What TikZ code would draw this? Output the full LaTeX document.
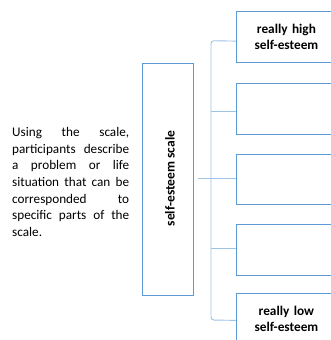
\documentclass[tikz,border=0pt]{standalone}
\usepackage{fontspec}
\setmainfont{Carlito}
\hyphenpenalty=10000
\exhyphenpenalty=10000
\definecolor{boxblue}{HTML}{5B9BD5}
\definecolor{linkblue}{HTML}{9DC3E6}
\begin{document}
\begin{tikzpicture}[x=1pt,y=-1pt,
  sbox/.style={draw=boxblue,line width=0.8pt,minimum width=104pt,minimum height=51pt,inner sep=0pt,anchor=north west,
    font=\fontsize{13.3}{16.7}\selectfont\bfseries,text width=104pt,align=center},
  conn/.style={draw=linkblue,line width=0.9pt}]
\clip (0,0) rectangle (331,340);
\fill[white] (0,0) rectangle (331,340);
% description text
\node[anchor=north west,inner sep=0pt,text width=117pt,align=justify,
  font=\fontsize{13.2}{16.7}\selectfont] (desc) at (12,127)
  {Using the scale,\linebreak participants describe\linebreak a problem or life\linebreak situation that can be\linebreak corresponded to\linebreak specific parts of the\linebreak scale.};
% scale box
\node[draw=boxblue,line width=0.8pt,minimum width=51pt,minimum height=232pt,inner sep=0pt,anchor=north west] (scale) at (142,63) {};
\node[rotate=90,font=\fontsize{13.5}{15}\selectfont\bfseries,inner sep=0pt] (scaletxt) at (170,178.5) {self-esteem scale};
% right boxes
\node[sbox] (b1) at (236,11) {\hspace*{-4pt}really high\\\hspace*{-4pt}self-esteem\par\vspace{4pt}};
\node[sbox] (b2) at (236,83) {};
\node[sbox,minimum height=50pt] (b3) at (236,154) {};
\node[sbox] (b4) at (236,224) {};
\node[sbox] (b5) at (236,293) {\hspace*{-4pt}really low\\\hspace*{-4pt}self-esteem\par\vspace{4pt}};
% bracket
\coordinate (spine) at (211,180);
\coordinate (top) at (211,40.7);
\coordinate (bot) at (211,320);
\draw[conn,rounded corners=3pt] ([yshift=-4.2pt]b1.west) -- (top) -- (bot) -- ([yshift=-1.5pt]b5.west);
\draw[conn] ([yshift=-2.5pt]b2.west) -- ([yshift=-2.5pt]b2.west -| spine);
\draw[conn] ([yshift=1.2pt]b4.west) -- ([yshift=1.2pt]b4.west -| spine);
\draw[conn] ([xshift=4pt,yshift=0.5pt]scale.east) -- ([yshift=0.5pt]scale.east -| b3.west);
\end{tikzpicture}
\end{document}
